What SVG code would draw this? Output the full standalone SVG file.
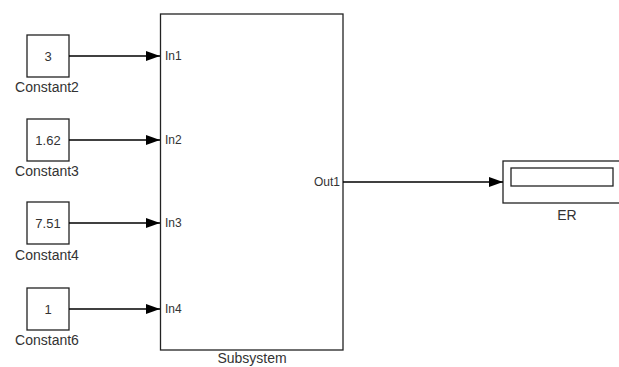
<svg xmlns="http://www.w3.org/2000/svg" width="619" height="367" viewBox="0 0 619 367">
  <style>
    .blk { fill: #fff; stroke: #222; stroke-width: 1.3; }
    .val { font-family: "Liberation Sans", Arial, sans-serif; font-size: 13px; fill: #333; text-anchor: middle; }
    .lbl { font-family: "Liberation Sans", Arial, sans-serif; font-size: 14px; fill: #333; text-anchor: middle; }
    .port { font-family: "Liberation Sans", Arial, sans-serif; font-size: 12px; fill: #333; }
    .wire { fill: none; stroke: #000; stroke-width: 1.4; }
  </style>
  <defs>
    <marker id="arr" markerWidth="14" markerHeight="10" refX="14" refY="5" orient="auto" markerUnits="userSpaceOnUse">
      <path d="M0,0 L14,5 L0,10 Z" fill="#000"/>
    </marker>
  </defs>
  <rect width="619" height="367" fill="#fff"/>

  <g id="constant2">
    <rect class="blk" x="27" y="35" width="42" height="42"/>
    <text class="val" x="48" y="61">3</text>
    <text class="lbl" x="47" y="92">Constant2</text>
  </g>
  <g id="constant3">
    <rect class="blk" x="27" y="119" width="42" height="42"/>
    <text class="val" x="48" y="145">1.62</text>
    <text class="lbl" x="47" y="176">Constant3</text>
  </g>
  <g id="constant4">
    <rect class="blk" x="27" y="202" width="42" height="42"/>
    <text class="val" x="48" y="228">7.51</text>
    <text class="lbl" x="47" y="260">Constant4</text>
  </g>
  <g id="constant6">
    <rect class="blk" x="27" y="288" width="42" height="42"/>
    <text class="val" x="48" y="314">1</text>
    <text class="lbl" x="47" y="345">Constant6</text>
  </g>

  <g id="subsystem">
    <rect class="blk" x="160.5" y="14" width="182.5" height="336"/>
    <text class="port" x="165" y="60">In1</text>
    <text class="port" x="165" y="144">In2</text>
    <text class="port" x="165" y="227">In3</text>
    <text class="port" x="165" y="313">In4</text>
    <text class="port" x="340" y="186" text-anchor="end">Out1</text>
    <text class="lbl" x="252" y="363" font-size="13.5">Subsystem</text>
  </g>

  <g id="er">
    <rect class="blk" x="503" y="161" width="120" height="42"/>
    <rect class="blk" x="511" y="168" width="102" height="18"/>
    <text class="lbl" x="567" y="220">ER</text>
  </g>

  <g id="connectors">
    <line class="wire" x1="69" y1="56" x2="160" y2="56" marker-end="url(#arr)"/>
    <line class="wire" x1="69" y1="140" x2="160" y2="140" marker-end="url(#arr)"/>
    <line class="wire" x1="69" y1="223" x2="160" y2="223" marker-end="url(#arr)"/>
    <line class="wire" x1="69" y1="309" x2="160" y2="309" marker-end="url(#arr)"/>
    <line class="wire" x1="343" y1="182" x2="503" y2="182" marker-end="url(#arr)"/>
  </g>
</svg>
